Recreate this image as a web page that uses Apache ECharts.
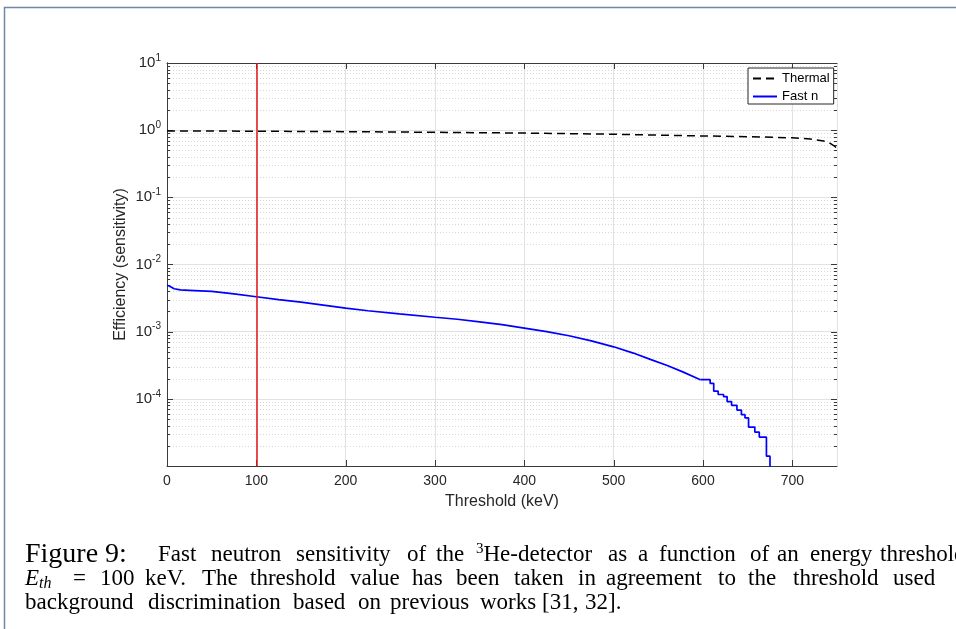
<!DOCTYPE html>
<html>
<head>
<meta charset="utf-8">
<title>Fast neutron sensitivity of the 3He-detector</title>
<script src="https://cdn.jsdelivr.net/npm/echarts@6/dist/echarts.min.js"></script>
<style>
  html, body { margin: 0; padding: 0; background: #ffffff; }
  #chart { width: 956px; height: 629px; }
</style>
</head>
<body>
<div id="chart"></div>
<script>
// ---- data -------------------------------------------------------------
// Thermal neutron efficiency vs. threshold
const thermalKeV = [0, 100, 200, 300, 400, 500, 600, 650, 700, 720, 735, 742, 748, 750];
const thermalEff = [0.975, 0.965, 0.95, 0.93, 0.905, 0.87, 0.82, 0.80, 0.77, 0.74, 0.69, 0.64, 0.57, 0.52];

// Fast neutron efficiency, finely binned part
const fastKeV = [0, 3, 8, 15, 25, 50, 75, 100, 125, 150, 175, 200, 225, 260, 300, 325, 350, 375,
                 400, 425, 450, 475, 500, 522, 541, 560, 578, 597];
const fastEff = [4.9e-3, 4.75e-3, 4.35e-3, 4.18e-3, 4.12e-3, 3.97e-3, 3.66e-3, 3.31e-3, 3.0e-3, 2.75e-3,
                 2.48e-3, 2.24e-3, 2.05e-3, 1.84e-3, 1.64e-3, 1.53e-3, 1.40e-3, 1.27e-3,
                 1.13e-3, 1.0e-3, 8.7e-4, 7.3e-4, 5.95e-4, 4.8e-4, 3.87e-4, 3.14e-4, 2.5e-4, 1.93e-4];

// Fast neutron efficiency, low-statistics tail (histogram bins, left edges)
const tailKeV = [597, 608, 612, 617, 623, 627, 632, 638, 643, 647, 651, 658, 663, 671, 675];
const tailEff = [1.93e-4, 1.70e-4, 1.30e-4, 1.16e-4, 1.08e-4, 9.1e-5, 8.0e-5, 6.8e-5, 5.8e-5, 5.2e-5,
                 3.8e-5, 3.2e-5, 2.7e-5, 1.4e-5, 5e-6];

// Chosen threshold
const thresholdKeV = 100;

// Axis ranges and ticks
const xMin = 0, xMax = 750, xStep = 100;
const xTickValues = [0, 100, 200, 300, 400, 500, 600, 700];
const yMin = 1e-5, yMax = 10;
const yDecadeExponents = [-5, -4, -3, -2, -1, 0, 1];
const yUnlabelledExponent = -5;

// ---- helpers ----------------------------------------------------------
const zip = (xs, ys) => xs.map((x, i) => [x, ys[i]]);

// y ticks: decades (major, flag 1) and 2..9 in every decade (minor, flag 0)
const yTicks = [];
yDecadeExponents.forEach((e, k) => {
  const base = Math.pow(10, e);
  yTicks.push([xMin, base, 1]);
  if (k < yDecadeExponents.length - 1) {
    for (let m = 2; m <= 9; m++) yTicks.push([xMin, m * base, 0]);
  }
});
const xTicks = xTickValues.map(v => [v, yMin]);

const SANS = '"Liberation Sans", Arial, Helvetica, sans-serif';
const SERIF = '"Liberation Serif", "Times New Roman", serif';
const AXIS_COLOR = '#3a3a3a';
const LABEL_COLOR = '#262626';
const GRID_COLOR = '#e2e2e2';
const crisp = v => Math.round(v) + 0.5;

const axisLabelRich = {
  b: { fontSize: 15, lineHeight: 20, fontFamily: SANS, color: LABEL_COLOR },
  s: { fontSize: 10, lineHeight: 12, verticalAlign: 'top', fontFamily: SANS, color: LABEL_COLOR }
};

// ---- caption ----------------------------------------------------------
const capRich = {
  n: { fontSize: 23, lineHeight: 26, fontFamily: SERIF, color: '#111' },
  big: { fontSize: 28, lineHeight: 30, fontFamily: SERIF, color: '#111' },
  i: { fontSize: 23, lineHeight: 26, fontFamily: SERIF, fontStyle: 'italic', color: '#111' },
  sub: { fontSize: 16, lineHeight: 14, verticalAlign: 'bottom', fontFamily: SERIF, fontStyle: 'italic', color: '#111' },
  sup: { fontSize: 15, lineHeight: 15, verticalAlign: 'top', fontFamily: SERIF, color: '#111' },
  l: { fontSize: 23, lineHeight: 26, fontFamily: SERIF, color: '#1010ee' }
};
const captionLines = [
  { y: 555, words: [
    ['{big|Figure 9:}', 25], ['Fast', 158], ['neutron', 211], ['sensitivity', 296], ['of', 407], ['the', 436],
    ['{sup|3}{n|He-detector}', 476], ['as', 608], ['a', 638], ['function', 659], ['of', 750], ['an', 777],
    ['energy', 810], ['threshold', 880]
  ]},
  { y: 579, words: [
    ['{i|E}{sub|th}', 25], ['=', 73], ['100', 100], ['keV.', 145], ['The', 202], ['threshold', 250],
    ['value', 350], ['has', 412], ['been', 456], ['taken', 514], ['in', 578], ['agreement', 606],
    ['to', 718], ['the', 748], ['threshold', 793], ['used', 893]
  ]},
  { y: 603, words: [
    ['background', 25], ['discrimination', 148], ['based', 293], ['on', 358], ['previous', 390],
    ['works', 480], ['{n|[}{l|31}{n|,}', 542], ['{l|32}{n|].}', 585]
  ]}
];
const captionElements = [];
captionLines.forEach(line => {
  line.words.forEach(([w, x]) => {
    captionElements.push({
      type: 'text', x: x, y: line.y, silent: true,
      style: {
        text: w.indexOf('{') === 0 ? w : '{n|' + w + '}',
        rich: capRich, align: 'left', verticalAlign: 'middle'
      }
    });
  });
});

// ---- chart ------------------------------------------------------------
const chart = echarts.init(document.getElementById('chart'), null, { renderer: 'canvas' });

const logAxisBase = {
  type: 'log', logBase: 10, min: yMin, max: yMax, splitNumber: 6,
  axisLine: { show: true, lineStyle: { color: AXIS_COLOR, width: 1 } },
  axisTick: { show: false },
  minorTick: { show: false }
};
const linAxisBase = {
  type: 'value', min: xMin, max: xMax, interval: xStep,
  axisLine: { show: true, lineStyle: { color: AXIS_COLOR, width: 1 } },
  axisTick: { show: false }
};

chart.setOption({
  animation: false,
  backgroundColor: '#ffffff',
  textStyle: { fontFamily: SANS },
  grid: { left: 167, top: 63, right: 119, bottom: 163, containLabel: false },
  xAxis: [
    Object.assign({}, linAxisBase, {
      position: 'bottom',
      name: 'Threshold (keV)', nameLocation: 'middle', nameGap: 28,
      nameTextStyle: { fontSize: 16, color: LABEL_COLOR, fontFamily: SANS },
      axisLabel: { margin: 8, fontSize: 14, color: LABEL_COLOR, fontFamily: SANS, showMaxLabel: false },
      splitLine: { show: true, lineStyle: { color: GRID_COLOR, width: 1 } }
    }),
    Object.assign({}, linAxisBase, {
      position: 'top',
      axisLabel: { show: false },
      splitLine: { show: false }
    })
  ],
  yAxis: [
    Object.assign({}, logAxisBase, {
      position: 'left',
      name: 'Efficiency (sensitivity)', nameLocation: 'middle', nameGap: 38,
      nameMoveOverlap: false,
      nameTextStyle: { fontSize: 16, color: LABEL_COLOR, fontFamily: SANS },
      axisLabel: {
        margin: 6,
        formatter: function (v) {
          const e = Math.round(Math.log10(v));
          if (e === yUnlabelledExponent) return '';
          return '{b|10}{s|' + e + '}';
        },
        rich: axisLabelRich
      },
      splitLine: { show: true, lineStyle: { color: GRID_COLOR, width: 1 } }
    }),
    Object.assign({}, logAxisBase, {
      position: 'right',
      axisLabel: { show: false },
      splitLine: { show: false }
    })
  ],
  legend: {
    data: ['Thermal', 'Fast n'],
    orient: 'vertical',
    left: 748, top: 68,
    padding: [4, 4, 1, 4],
    itemGap: 5, itemWidth: 24, itemHeight: 12,
    backgroundColor: '#ffffff',
    borderColor: '#262626', borderWidth: 1, borderRadius: 0,
    itemStyle: { opacity: 0 },
    textStyle: { fontFamily: SANS, fontSize: 13, color: '#000000' }
  },
  series: [
    {
      // logarithmic y ticks on both sides (inward) plus dotted minor gridlines
      type: 'custom', name: 'yticks', silent: true, z: 1,
      xAxisIndex: 0, yAxisIndex: 0,
      data: yTicks,
      encode: { x: 0, y: 1 },
      renderItem: function (params, api) {
        const v = api.value(1);
        const major = api.value(2) === 1;
        const a = api.coord([xMin, v]);
        const b = api.coord([xMax, v]);
        const y = crisp(a[1]);
        const len = major ? 6 : 3;
        const children = [
          { type: 'line', shape: { x1: a[0], y1: y, x2: a[0] + len, y2: y },
            style: { stroke: AXIS_COLOR, lineWidth: 1 }, z2: 10 },
          { type: 'line', shape: { x1: b[0], y1: y, x2: b[0] - len, y2: y },
            style: { stroke: AXIS_COLOR, lineWidth: 1 }, z2: 10 }
        ];
        if (!major) {
          children.unshift({ type: 'line', shape: { x1: a[0], y1: y, x2: b[0], y2: y },
            style: { stroke: '#d8d8d8', lineWidth: 1, lineDash: [1, 2] } });
        }
        return { type: 'group', children: children };
      }
    },
    {
      // x ticks on bottom and top edges (inward)
      type: 'custom', name: 'xticks', silent: true, z: 1,
      xAxisIndex: 0, yAxisIndex: 0,
      data: xTicks,
      encode: { x: 0, y: 1 },
      renderItem: function (params, api) {
        const v = api.value(0);
        const lo = api.coord([v, yMin]);
        const hi = api.coord([v, yMax]);
        const x = crisp(lo[0]);
        return {
          type: 'group',
          children: [
            { type: 'line', shape: { x1: x, y1: lo[1], x2: x, y2: lo[1] - 6 },
              style: { stroke: AXIS_COLOR, lineWidth: 1 } },
            { type: 'line', shape: { x1: x, y1: hi[1], x2: x, y2: hi[1] + 6 },
              style: { stroke: AXIS_COLOR, lineWidth: 1 } }
          ]
        };
      }
    },
    {
      name: 'Thermal', type: 'line', xAxisIndex: 0, yAxisIndex: 0,
      data: zip(thermalKeV, thermalEff),
      symbol: 'none', color: '#000000', z: 4,
      lineStyle: { color: '#000000', width: 1.5, type: [8, 5] }
    },
    {
      name: 'Fast n', type: 'line', xAxisIndex: 0, yAxisIndex: 0,
      data: zip(fastKeV, fastEff),
      symbol: 'none', color: '#0000ff', z: 4,
      lineStyle: { color: '#0000ff', width: 1.7 },
      markLine: {
        silent: true, symbol: 'none', animation: false,
        label: { show: false },
        lineStyle: { color: '#e3141b', width: 1.5, type: 'solid' },
        data: [{ xAxis: thresholdKeV }]
      }
    },
    {
      name: 'Fast n', type: 'line', xAxisIndex: 0, yAxisIndex: 0,
      data: zip(tailKeV, tailEff),
      step: 'end', symbol: 'none', color: '#0000ff', z: 4,
      lineStyle: { color: '#0000ff', width: 1.7 }
    }
  ],
  graphic: [
    {
      type: 'polyline', silent: true,
      shape: { points: [[4.5, 629], [4.5, 7.5], [956, 7.5]] },
      style: { stroke: '#7088a8', lineWidth: 1.5, fill: null }
    }
  ].concat(captionElements)
});
</script>
</body>
</html>
